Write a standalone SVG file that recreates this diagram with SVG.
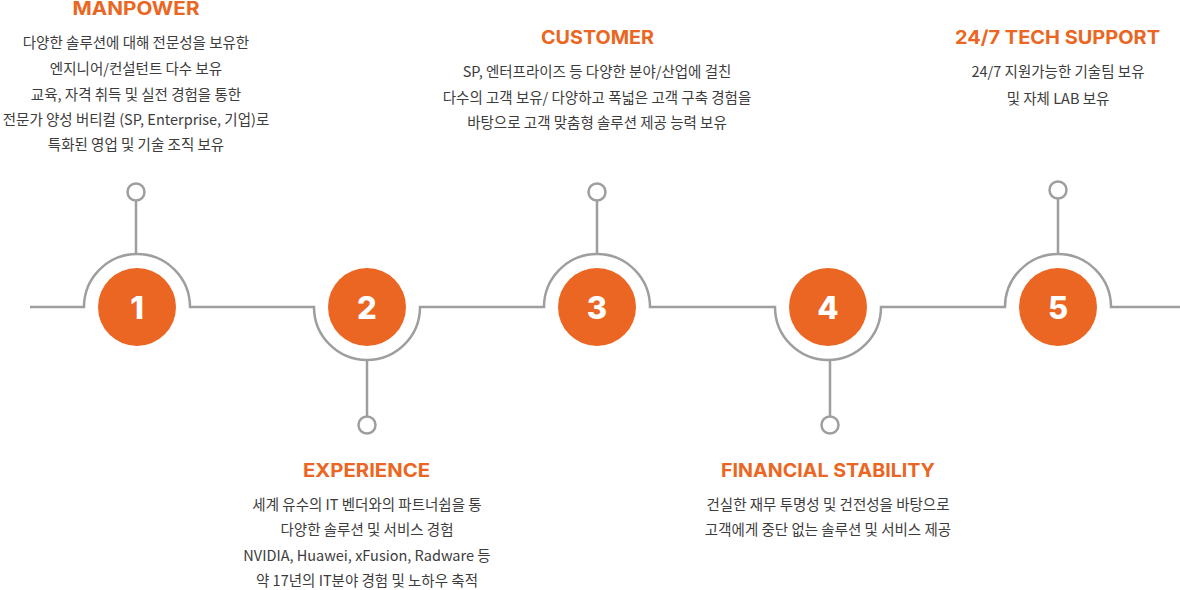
<svg xmlns="http://www.w3.org/2000/svg" width="1180" height="590" viewBox="0 0 1180 590">
<style>
.ln{fill:none;stroke:#9e9e9e;stroke-width:2.5}
.dot{fill:#fff;stroke:#9e9e9e;stroke-width:2.5}
.num{fill:#ea6622}
.nt{fill:#fff;font-family:Inter,"Noto Sans",sans-serif;font-weight:800;font-size:31px;text-anchor:middle}
.tt{fill:#ea6622;font-family:Inter,"Noto Sans",sans-serif;font-weight:700;font-size:19px;text-anchor:middle}
.bd{fill:#3c3c3c;font-family:"Noto Sans CJK KR","Noto Sans",sans-serif;font-size:14.5px;text-anchor:middle}
</style>
<rect width="1180" height="590" fill="#fff"/>
<g id="connectors">
<path class="ln" d="M30 307 H84 A53 53 0 0 1 190 307 H314 A53 53 0 0 0 420 307 H544 A53 53 0 0 1 650 307 H775 A53 53 0 0 0 881 307 H1005 A53 53 0 0 1 1111 307 H1180"/>
<path class="ln" d="M136 255 V201 M367 360 V416 M597 255 V201 M830 360 V416 M1058 255 V199"/>
</g>
<g id="node1">
<circle class="num" cx="137" cy="307" r="39"/>
<text class="nt" x="137" y="319">1</text>
<circle class="dot" cx="136" cy="192" r="8.5"/>
<text class="tt" x="136" y="15" textLength="127" lengthAdjust="spacingAndGlyphs">MANPOWER</text>
<text class="bd" x="136" y="48">다양한 솔루션에 대해 전문성을 보유한</text>
<text class="bd" x="136" y="74">엔지니어/컨설턴트 다수 보유</text>
<text class="bd" x="136" y="100">교육, 자격 취득 및 실전 경험을 통한</text>
<text class="bd" x="136" y="125">전문가 양성 버티컬 (SP, Enterprise, 기업)로</text>
<text class="bd" x="136" y="150">특화된 영업 및 기술 조직 보유</text>
</g>
<g id="node2">
<circle class="num" cx="367" cy="307" r="39"/>
<text class="nt" x="367" y="319">2</text>
<circle class="dot" cx="367" cy="425" r="8.5"/>
<text class="tt" x="366.5" y="477" textLength="127" lengthAdjust="spacingAndGlyphs">EXPERIENCE</text>
<text class="bd" x="367" y="510">세계 유수의 IT 벤더와의 파트너쉽을 통</text>
<text class="bd" x="367" y="535">다양한 솔루션 및 서비스 경험</text>
<text class="bd" x="367" y="561">NVIDIA, Huawei, xFusion, Radware 등</text>
<text class="bd" x="367" y="586">약 17년의 IT분야 경험 및 노하우 축적</text>
</g>
<g id="node3">
<circle class="num" cx="597" cy="307" r="39"/>
<text class="nt" x="597" y="319">3</text>
<circle class="dot" cx="597" cy="192" r="8.5"/>
<text class="tt" x="597.5" y="44" textLength="113" lengthAdjust="spacingAndGlyphs">CUSTOMER</text>
<text class="bd" x="597" y="77">SP, 엔터프라이즈 등 다양한 분야/산업에 걸친</text>
<text class="bd" x="597" y="103">다수의 고객 보유/ 다양하고 폭넓은 고객 구축 경험을</text>
<text class="bd" x="597" y="128">바탕으로 고객 맞춤형 솔루션 제공 능력 보유</text>
</g>
<g id="node4">
<circle class="num" cx="828" cy="307" r="39"/>
<text class="nt" x="828" y="319">4</text>
<circle class="dot" cx="830" cy="425" r="8.5"/>
<text class="tt" x="828" y="477" textLength="214" lengthAdjust="spacingAndGlyphs">FINANCIAL STABILITY</text>
<text class="bd" x="828" y="510">건실한 재무 투명성 및 건전성을 바탕으로</text>
<text class="bd" x="828" y="535">고객에게 중단 없는 솔루션 및 서비스 제공</text>
</g>
<g id="node5">
<circle class="num" cx="1058" cy="307" r="39"/>
<text class="nt" x="1058" y="319">5</text>
<circle class="dot" cx="1058" cy="190" r="8.5"/>
<text class="tt" x="1057.5" y="44" textLength="205" lengthAdjust="spacingAndGlyphs">24/7 TECH SUPPORT</text>
<text class="bd" x="1058" y="77">24/7 지원가능한 기술팀 보유</text>
<text class="bd" x="1058" y="104">및 자체 LAB 보유</text>
</g>
</svg>
